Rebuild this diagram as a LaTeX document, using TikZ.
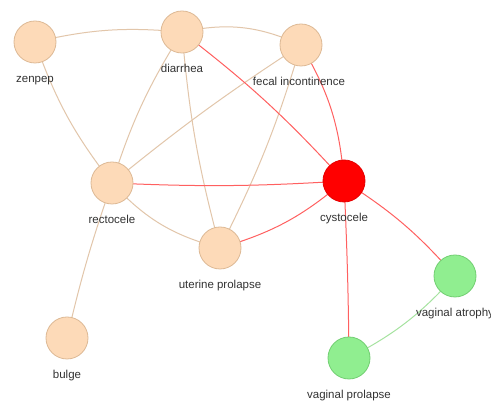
\documentclass[tikz,border=0pt]{standalone}
\usepackage{fontspec}
\setmainfont{Liberation Sans}
\begin{document}
\begin{tikzpicture}[x=1pt,y=1pt,
  tannode/.style={circle,minimum size=42pt,inner sep=0pt,fill=tanfill,draw=tanline,line width=0.8pt},
  rednode/.style={circle,minimum size=42pt,inner sep=0pt,fill=red,draw=red!90!black,line width=0.8pt},
  greennode/.style={circle,minimum size=42pt,inner sep=0pt,fill=greenfill,draw=greenline,line width=0.8pt},
  lbl/.style={anchor=base,text=labelgray,font=\fontsize{11.5}{13}\selectfont,inner sep=0pt},
  tanedge/.style={draw=tanedgec,line width=1pt},
  rededge/.style={draw=rededgec,line width=1pt},
  greenedge/.style={draw=greenedgec,line width=1pt}]
\definecolor{tanfill}{HTML}{FDDAB8}
\definecolor{tanline}{HTML}{DDB995}
\definecolor{greenfill}{HTML}{90EE90}
\definecolor{greenline}{HTML}{72CF72}
\definecolor{labelgray}{HTML}{333333}
\definecolor{tanedgec}{HTML}{E2C6AA}
\definecolor{rededgec}{HTML}{FF6060}
\definecolor{greenedgec}{HTML}{A6E3A0}
\useasboundingbox (0,0) rectangle (491,401);
\clip (0,0) rectangle (491,401);
\fill[white] (0,0) rectangle (491,401);
% node positions
\coordinate (zen) at (35,359);
\coordinate (dia) at (182,369);
\coordinate (fec) at (301,356);
\coordinate (rec) at (112,218);
\coordinate (cys) at (344,220);
\coordinate (ute) at (220,153);
\coordinate (bul) at (67,63);
\coordinate (vat) at (455,125);
\coordinate (vpr) at (349,43);
% edges
\path[tanedge] (zen) to[bend left=9] (dia);
\path[tanedge] (dia) to[bend left=18] (fec);
\path[tanedge] (zen) to[bend right=9] (rec);
\path[tanedge] (dia) to[bend right=7] (rec);
\path[tanedge] (dia) to[bend right=5] (ute);
\path[tanedge] (fec) to[bend right=3] (rec);
\path[tanedge] (fec) to[bend left=5] (ute);
\path[tanedge] (rec) to[bend right=16] (ute);
\path[tanedge] (rec) to[bend right=3] (bul);
\path[rededge] (dia) to[bend left=5] (cys);
\path[rededge] (fec) to[bend left=13] (cys);
\path[rededge] (rec) to[bend right=3] (cys);
\path[rededge] (ute) to[bend right=12] (cys);
\path[rededge] (cys) to[bend left=1] (vpr);
\path[rededge] (cys) to[bend left=8] (vat);
\path[greenedge] (vpr) to[bend right=10] (vat);
% nodes on top
\node[tannode] (nzen) at (zen) {};
\node[tannode] (ndia) at (dia) {};
\node[tannode] (nfec) at (fec) {};
\node[tannode] (nrec) at (rec) {};
\node[rednode] (ncys) at (cys) {};
\node[tannode] (nute) at (ute) {};
\node[tannode] (nbul) at (bul) {};
\node[greennode] (nvat) at (vat) {};
\node[greennode] (nvpr) at (vpr) {};
% labels
\node[lbl] (lzen) at ([yshift=-40.5pt]nzen.center) {zenpep};
\node[lbl] (ldia) at ([yshift=-40.5pt]ndia.center) {diarrhea};
\node[lbl] (lfec) at ([yshift=-40.5pt,xshift=-2pt]nfec.center) {fecal incontinence};
\node[lbl] (lrec) at ([yshift=-40.5pt]nrec.center) {rectocele};
\node[lbl] (lcys) at ([yshift=-40.5pt]ncys.center) {cystocele};
\node[lbl] (lute) at ([yshift=-40.5pt]nute.center) {uterine prolapse};
\node[lbl] (lbul) at ([yshift=-40.5pt]nbul.center) {bulge};
\node[lbl] (lvat) at ([yshift=-40.5pt]nvat.center) {vaginal atrophy};
\node[lbl] (lvpr) at ([yshift=-40.5pt]nvpr.center) {vaginal prolapse};
\end{tikzpicture}
\end{document}
